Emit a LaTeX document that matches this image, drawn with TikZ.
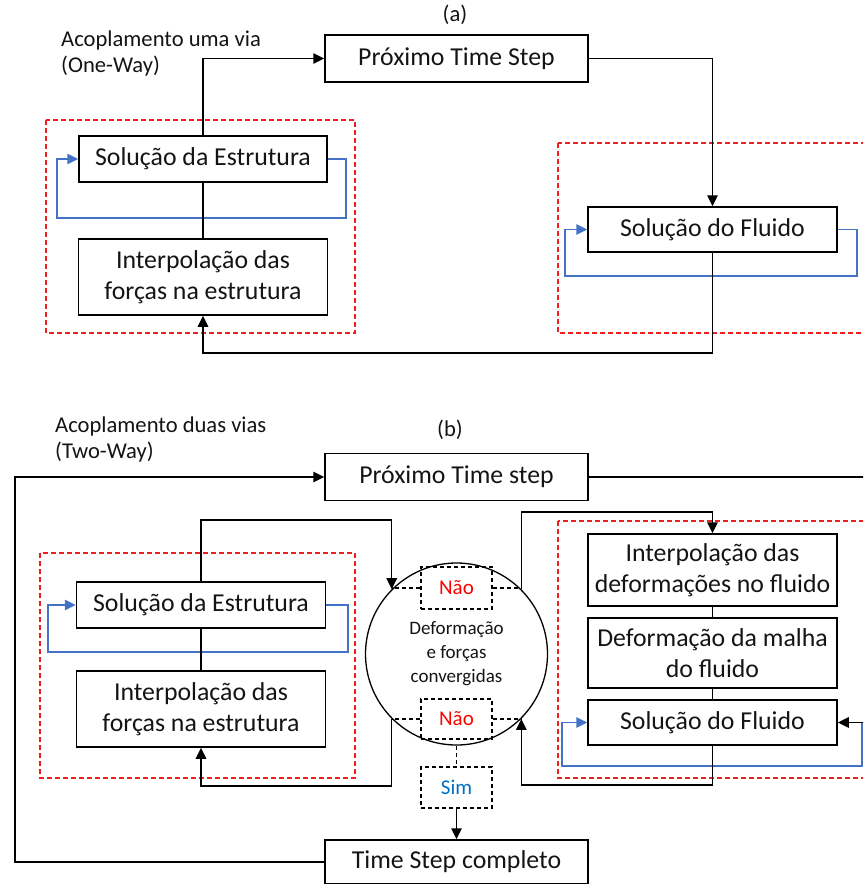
\documentclass[tikz,border=0pt]{standalone}
\usepackage{fontspec}
\setmainfont{Carlito}
\usetikzlibrary{arrows.meta}
\definecolor{rd}{RGB}{240,30,30}
\definecolor{bl}{RGB}{68,114,196}
\definecolor{simblue}{RGB}{0,112,192}
\definecolor{naored}{RGB}{255,0,0}
\definecolor{txt}{RGB}{20,20,20}
\begin{document}
\begin{tikzpicture}[x=1pt,y=-1pt,
  box/.style={draw=black, line width=1.5pt, inner sep=0pt, align=center,
    font=\fontsize{25.8}{31}\selectfont, text=txt},
  lbl/.style={inner sep=0pt, align=left, font=\fontsize{22.6}{26}\selectfont, text=txt},
  arr/.style={draw=black, line width=1.5pt, -{Triangle[length=11pt,width=10.5pt]}},
  ln/.style={draw=black, line width=1.5pt},
  blarr/.style={draw=bl, line width=1.5pt, -{Triangle[length=11pt,width=10.5pt]}},
  region/.style={draw=rd, line width=1.3pt, dash pattern=on 5pt off 3pt},
  nbox/.style={draw=black, line width=1.3pt, dash pattern=on 4pt off 3pt, inner sep=0pt,
    minimum width=71pt, font=\fontsize{21}{24}\selectfont},
  dln/.style={draw=black, line width=1.3pt, dash pattern=on 4pt off 3pt}]
\useasboundingbox (0,0) rectangle (863,884);
\clip (0,0) rectangle (863,884);

% ================= (a) =================
\node[lbl, anchor=center, align=center] (la) at (455,15) {(a)};
\node[lbl, anchor=west] (ta) at (61,53) {Acoplamento uma via\\(One-Way)};

\draw[region] (46,120) rectangle (355,333);
\draw[region] (558,143) rectangle (890,333);

\node[box, minimum width=263pt, minimum height=47pt] (proxa) at (456.5,58.5) {Próximo Time Step};
\node[box, minimum width=248pt, minimum height=46pt] (solEa) at (203,159) {Solução da Estrutura};
\node[box, minimum width=249pt, minimum height=76pt] (interpa) at (203,277) {Interpolação das\\forças na estrutura};
\node[box, minimum width=249pt, minimum height=45pt] (solFa) at (712.5,229.5) {Solução do Fluido};

\coordinate (la1) at (346,218);
\coordinate (la2) at (57,218);
\coordinate (lb1) at (857,276);
\coordinate (lb2) at (565,276);
\coordinate (ya) at (0,353);

\draw[blarr] (solEa.east) -| (la1) -- (la2) |- (solEa.west);
\draw[blarr] (solFa.east) -| (lb1) -- (lb2) |- (solFa.west);
\draw[arr] (solEa.north) |- (proxa.west);
\draw[arr] (proxa.east) -| (solFa.north);
\draw[ln] (interpa.north) -- (solEa.south);
\draw[arr] (solFa.south) -- (solFa.south |- ya) -| (interpa.south);

% ================= (b) =================
\node[lbl, anchor=center, align=center] (lb) at (450,430) {(b)};
\node[lbl, anchor=west] (tb) at (55,439) {Acoplamento duas vias\\(Two-Way)};

\draw[region] (40,553) rectangle (355,778);
\draw[region] (558,521) rectangle (890,778);

\node[box, minimum width=263pt, minimum height=47pt] (proxb) at (456.5,477) {Próximo Time step};
\node[box, minimum width=263pt, minimum height=44pt] (done) at (456.5,862) {Time Step completo};
\node[box, minimum width=249pt, minimum height=46pt] (solEb) at (201,605) {Solução da Estrutura};
\node[box, minimum width=249pt, minimum height=76pt] (interpb) at (201,709) {Interpolação das\\forças na estrutura};
\node[box, minimum width=249pt, minimum height=72pt] (idef) at (712.5,570) {Interpolação das\\deformações no fluido};
\node[box, minimum width=249pt, minimum height=70pt] (malha) at (712.5,653) {Deformação da malha\\do fluido};
\node[box, minimum width=249pt, minimum height=45pt] (solFb) at (712.5,722.5) {Solução do Fluido};

\node[draw=black, line width=1.3pt, circle, minimum size=182pt, inner sep=0pt, align=center,
  font=\fontsize{19}{24}\selectfont, text=txt] (circ) at (456.5,654) {Deformação\\e forças\\convergidas};
\node[nbox, minimum height=42pt, text=naored] (nao1) at (456.5,588) {Não};
\node[nbox, minimum height=40pt, text=naored] (nao2) at (456.5,719) {Não};
\node[nbox, minimum height=41pt, text=simblue] (sim) at (456.5,787.5) {Sim};

\coordinate (xL) at (15,0);
\coordinate (xR) at (880,0);
\coordinate (yb1) at (0,520);
\coordinate (yb2) at (0,786);
\coordinate (yb3) at (0,512);
\coordinate (yb4) at (0,785);
\coordinate (lc1) at (862,766);
\coordinate (lc2) at (562,766);
\coordinate (ld1) at (348,652);
\coordinate (ld2) at (48,652);

\draw[dln] (nao1.west) -- (nao1.west -| circ.135);
\draw[dln] (nao1.east) -- (nao1.east -| circ.45);
\draw[dln] (nao2.west) -- (nao2.west -| circ.225);
\draw[dln] (nao2.east) -- (nao2.east -| circ.-45);
\draw[dln] (circ.south) -- (sim.north);
\draw[arr] (sim.south) -- (done.north);

\draw[arr] (done.west) -- (done.west -| xL) |- (proxb.west);
\draw[blarr] (solEb.east) -| (ld1) -- (ld2) |- (solEb.west);
\draw[blarr] (solFb.east) -| (lc1) -- (lc2) |- (solFb.west);
\draw[arr] (proxb.east) -- (proxb.east -| xR) |- (solFb.east);

\draw[arr] (solEb.north) -- (solEb.north |- yb1) -| (circ.135);
\draw[arr] (circ.225) -- (circ.225 |- yb2) -| (interpb.south);
\draw[ln] (interpb.north) -- (solEb.south);
\draw[arr] (circ.45) -- (circ.45 |- yb3) -| (idef.north);
\draw[ln] (idef.south) -- (malha.north);
\draw[ln] (malha.south) -- (solFb.north);
\draw[arr] (solFb.south) -- (solFb.south |- yb4) -| (circ.-45);
\end{tikzpicture}
\end{document}
